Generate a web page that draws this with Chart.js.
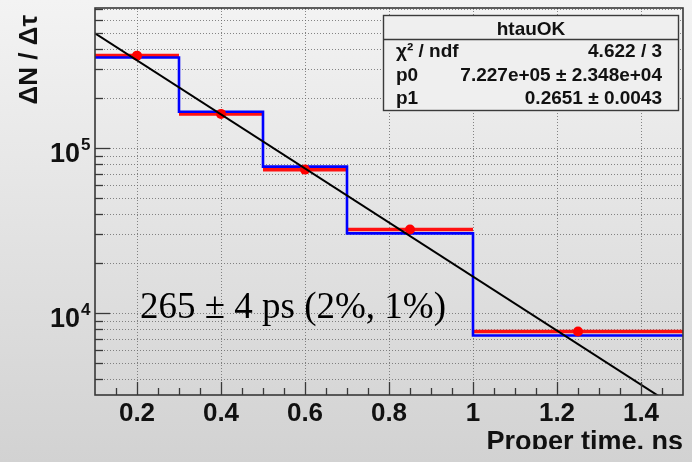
<!DOCTYPE html>
<html>
<head>
<meta charset="utf-8">
<script src="https://cdn.jsdelivr.net/npm/chart.js@4.4.1/dist/chart.umd.min.js"></script>
<style>
  html, body { margin: 0; padding: 0; background: #e4e4e4; }
  canvas { display: block; }
</style>
</head>
<body>
<canvas id="c" width="692" height="462"></canvas>
<script>
// Proper-time distribution, variable-width bins
const binEdges   = [0.1, 0.3, 0.5, 0.7, 1.0, 1.5];
const binCenters = [0.2, 0.4, 0.6, 0.85, 1.25];
const measured   = [3.63e5, 1.61e5, 7.40e4, 3.21e4, 7.72e3];   // red points with bin-width bars
const expected   = [3.54e5, 1.66e5, 7.71e4, 3.04e4, 7.30e3];   // blue histogram

// Exponential fit  p0 * exp(-t / p1)
const fitP0 = 7.227e5;
const fitP1 = 0.2651;
const fitRange = [0.1, 1.5];

// Axes
const xRange = [0.1, 1.5];
const yRange = [3184, 7.06e5];
const xMajorTicks = [0.2, 0.4, 0.6, 0.8, 1.0, 1.2, 1.4];
const xTickLabels = ['0.2', '0.4', '0.6', '0.8', '1', '1.2', '1.4'];
const yDecades = [4, 5];
const xTitle = 'Proper time, ns';
const yTitle = 'ΔN / Δτ';

// Fit statistics box and result text
const statsTitle = 'htauOK';
const statsLabels = ['χ² / ndf', 'p0', 'p1'];
const statsValues = ['4.622 / 3', '7.227e+05 ± 2.348e+04', '0.2651 ± 0.0043'];
const resultText = '265 ± 4 ps (2%, 1%)';

// ---- datasets built from the arrays above ----
const histPts = expected.map((v, i) => ({ x: binEdges[i], y: v }));
histPts.push({ x: binEdges[binEdges.length - 1], y: expected[expected.length - 1] });

const barPts = [];
measured.forEach((v, i) => {
  barPts.push({ x: binEdges[i], y: v }, { x: binEdges[i + 1], y: v }, { x: binEdges[i + 1], y: null });
});
const dotPts = measured.map((v, i) => ({ x: binCenters[i], y: v }));
const fitPts = fitRange.map(t => ({ x: t, y: fitP0 * Math.exp(-t / fitP1) }));

// grid / tick positions on the log axis
const yGridValues = [];
for (let n = 3; n <= 5; n++) {
  for (let m = 1; m <= 9; m++) {
    const v = m * Math.pow(10, n);
    if (v > yRange[0] && v < yRange[1]) yGridValues.push({ v, major: m === 1 });
  }
}
const xMinorStep = 0.05;

const SANS = '"Liberation Sans", Arial, sans-serif';
const SERIF = '"Liberation Serif", "Times New Roman", serif';

const rootFrame = {
  id: 'rootFrame',
  beforeDraw(chart) {
    const { ctx, width, height } = chart;
    const g = ctx.createLinearGradient(0, 0, 0, height);
    g.addColorStop(0, '#f3f3f3');
    g.addColorStop(1, '#d2d2d2');
    ctx.save();
    ctx.fillStyle = g;
    ctx.fillRect(0, 0, width, height);
    ctx.restore();
  },
  beforeDatasetsDraw(chart) {
    const { ctx, chartArea: a, scales: { x, y } } = chart;
    ctx.save();
    ctx.beginPath();
    ctx.rect(a.left, a.top, a.right - a.left, a.bottom - a.top);
    ctx.clip();
    ctx.strokeStyle = 'rgba(105,105,105,0.8)';
    ctx.lineWidth = 1;
    ctx.setLineDash([1, 2]);
    xMajorTicks.forEach(v => {
      const px = Math.round(x.getPixelForValue(v)) + 0.5;
      ctx.beginPath(); ctx.moveTo(px, a.top); ctx.lineTo(px, a.bottom); ctx.stroke();
    });
    yGridValues.forEach(({ v }) => {
      const py = Math.round(y.getPixelForValue(v)) + 0.5;
      ctx.beginPath(); ctx.moveTo(a.left, py); ctx.lineTo(a.right, py); ctx.stroke();
    });
    ctx.restore();
  },
  afterDatasetsDraw(chart) {
    const { ctx, chartArea: a, scales: { x, y } } = chart;
    ctx.save();
    ctx.strokeStyle = '#383838';
    ctx.fillStyle = '#111';

    // axis ticks, pointing into the frame
    ctx.lineWidth = 1.3;
    for (let k = 1; x.min + k * xMinorStep < x.max - 1e-9; k++) {
      const v = x.min + k * xMinorStep;
      const major = xMajorTicks.some(t => Math.abs(t - v) < 1e-6);
      const px = Math.round(x.getPixelForValue(v)) + 0.5;
      ctx.beginPath(); ctx.moveTo(px, a.bottom); ctx.lineTo(px, a.bottom - (major ? 13 : 7)); ctx.stroke();
    }
    yGridValues.forEach(({ v, major }) => {
      const py = Math.round(y.getPixelForValue(v)) + 0.5;
      ctx.beginPath(); ctx.moveTo(a.left, py); ctx.lineTo(a.left + (major ? 15 : 8), py); ctx.stroke();
    });

    // frame
    ctx.lineWidth = 1.6;
    ctx.strokeRect(a.left, a.top, a.right - a.left, a.bottom - a.top);

    // x tick labels
    ctx.font = 'bold 26px ' + SANS;
    ctx.textAlign = 'center';
    ctx.textBaseline = 'alphabetic';
    xMajorTicks.forEach((v, i) => ctx.fillText(xTickLabels[i], x.getPixelForValue(v), a.bottom + 26));

    // y tick labels 10^n
    yDecades.forEach(n => {
      const py = y.getPixelForValue(Math.pow(10, n));
      ctx.font = 'bold 27px ' + SANS;
      ctx.textAlign = 'right';
      ctx.fillText('10', 80, py + 14);
      ctx.font = 'bold 17px ' + SANS;
      ctx.textAlign = 'left';
      ctx.fillText(String(n), 81, py + 2);
    });

    // y title, rotated, right-aligned at the top of the axis
    ctx.save();
    ctx.translate(37, 15);
    ctx.rotate(-Math.PI / 2);
    ctx.font = 'bold 26px ' + SANS;
    ctx.textAlign = 'right';
    ctx.fillText(yTitle, 0, 0);
    ctx.restore();

    // x title, right-aligned; the lower edge of the pad trims it
    ctx.save();
    ctx.beginPath();
    ctx.rect(0, 0, chart.width, 449);
    ctx.clip();
    ctx.font = 'bold 27px ' + SANS;
    ctx.textAlign = 'right';
    ctx.fillText(xTitle, a.right, 450);
    ctx.restore();

    // result text
    ctx.font = '37px ' + SERIF;
    ctx.textAlign = 'left';
    ctx.fillStyle = '#000';
    ctx.fillText(resultText, 140, 318);

    // statistics box
    const bx = 383.5, by = 15.5, bw = 295, bh = 95;
    ctx.fillStyle = '#efefef';
    ctx.fillRect(bx, by, bw, bh);
    ctx.lineWidth = 1.4;
    ctx.strokeStyle = '#3a3a3a';
    ctx.strokeRect(bx, by, bw, bh);
    ctx.beginPath(); ctx.moveTo(bx, 39.5); ctx.lineTo(bx + bw, 39.5); ctx.stroke();
    ctx.fillStyle = '#111';
    ctx.font = 'bold 19px ' + SANS;
    ctx.textAlign = 'center';
    ctx.fillText(statsTitle, bx + bw / 2, 35);
    const rowBase = [57, 81, 104];
    statsLabels.forEach((lab, i) => {
      ctx.textAlign = 'left';
      ctx.fillText(lab, 396, rowBase[i]);
      ctx.textAlign = 'right';
      ctx.fillText(statsValues[i], 662, rowBase[i]);
    });
    ctx.restore();
  }
};

new Chart(document.getElementById('c'), {
  type: 'line',
  data: {
    datasets: [
      { label: 'fit', data: fitPts, borderColor: '#000000', borderWidth: 2, pointRadius: 0, order: 0 },
      { label: 'measured points', data: dotPts, showLine: false, pointRadius: 5, pointBackgroundColor: '#ff0000', pointBorderWidth: 0, order: 1 },
      { label: 'expected', data: histPts, stepped: 'before', borderColor: '#0000ff', borderWidth: 2.6, pointRadius: 0, order: 2 },
      { label: 'measured', data: barPts, borderColor: '#ff1010', borderWidth: 3.6, pointRadius: 0, spanGaps: false, order: 3 }
    ]
  },
  options: {
    responsive: false,
    animation: false,
    events: [],
    layout: { padding: { left: 95, top: 8, right: 9, bottom: 67 } },
    plugins: { legend: { display: false }, tooltip: { enabled: false } },
    elements: { line: { tension: 0 } },
    scales: {
      x: { type: 'linear', min: xRange[0], max: xRange[1], display: false },
      y: { type: 'logarithmic', min: yRange[0], max: yRange[1], display: false }
    }
  },
  plugins: [rootFrame]
});
</script>
</body>
</html>
